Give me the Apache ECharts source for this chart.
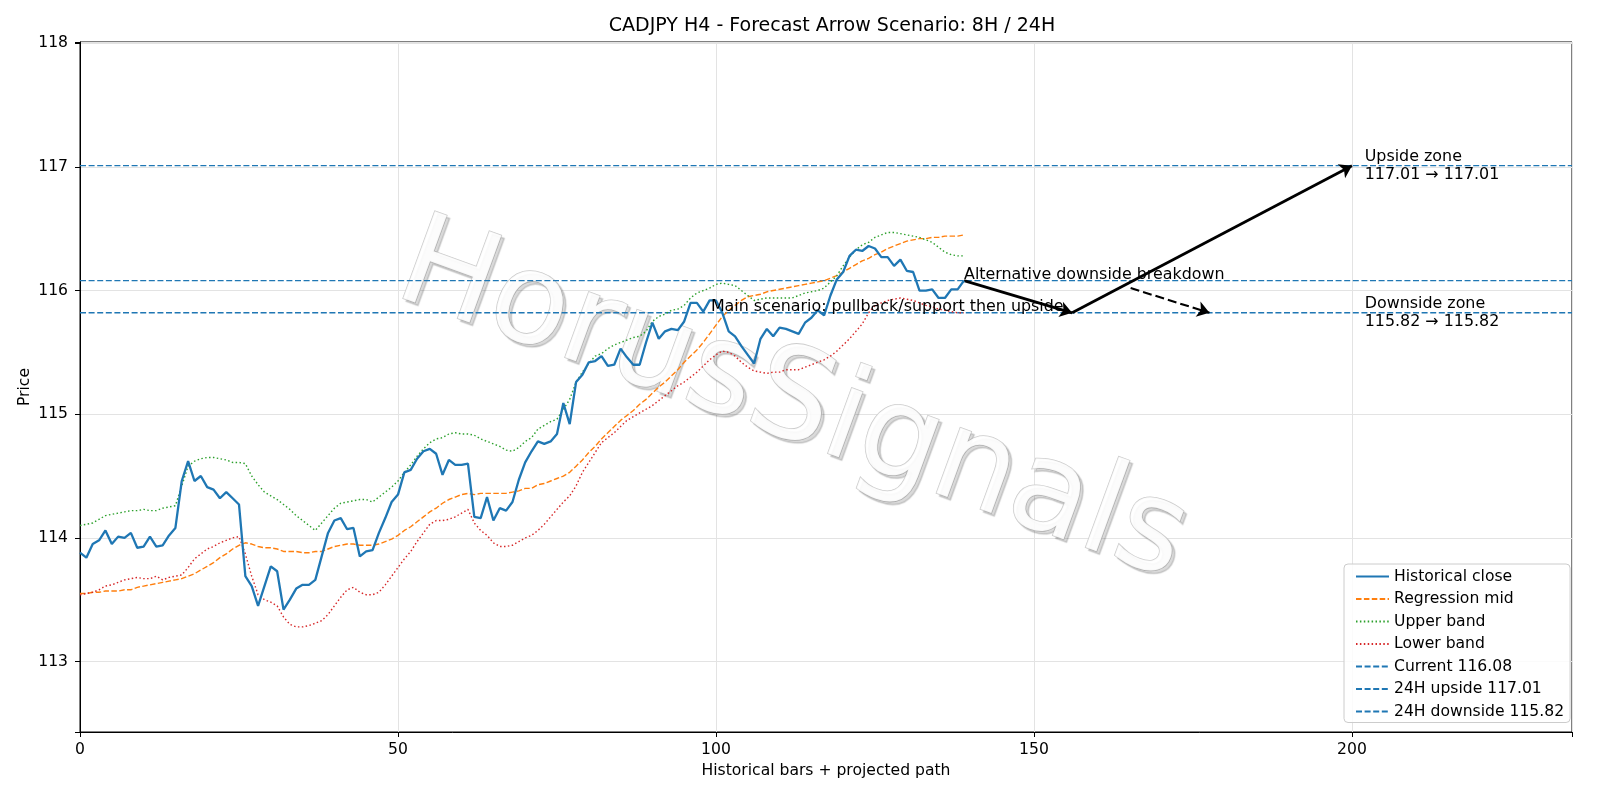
<!DOCTYPE html>
<html><head><meta charset="utf-8">
<script src="https://cdn.jsdelivr.net/npm/echarts@6/dist/echarts.min.js"></script>
<style>html,body{margin:0;padding:0;background:#fff}#c{width:1600px;height:800px}</style>
</head><body><div id="c"></div>
<script>
const closeVals = [113.88,113.84,113.95,113.98,114.06,113.95,114.01,114.00,114.04,113.92,
113.93,114.01,113.93,113.94,114.02,114.08,114.46,114.62,114.46,114.50,
114.41,114.39,114.32,114.37,114.32,114.27,113.69,113.61,113.45,113.61,
113.77,113.73,113.42,113.50,113.59,113.62,113.62,113.66,113.85,114.04,
114.14,114.16,114.07,114.08,113.85,113.89,113.90,114.04,114.16,114.29,
114.35,114.53,114.55,114.64,114.70,114.72,114.68,114.51,114.63,114.59,
114.59,114.60,114.17,114.16,114.33,114.14,114.24,114.22,114.29,114.47,
114.61,114.70,114.78,114.76,114.78,114.84,115.09,114.92,115.26,115.32,
115.42,115.43,115.47,115.39,115.40,115.53,115.46,115.40,115.40,115.58,
115.74,115.61,115.67,115.69,115.68,115.75,115.90,115.90,115.83,115.92,
115.92,115.82,115.67,115.63,115.55,115.48,115.41,115.61,115.69,115.63,
115.70,115.69,115.67,115.65,115.74,115.78,115.84,115.80,115.96,116.09,
116.15,116.28,116.33,116.32,116.36,116.34,116.27,116.27,116.20,116.25,
116.16,116.15,116.00,116.00,116.01,115.94,115.94,116.01,116.01,116.08];
const midVals = [113.55,113.55,113.56,113.56,113.57,113.57,113.57,113.58,113.58,113.60,
113.61,113.62,113.63,113.64,113.65,113.66,113.67,113.69,113.71,113.74,
113.77,113.80,113.84,113.87,113.91,113.94,113.96,113.95,113.93,113.92,
113.92,113.91,113.89,113.89,113.89,113.88,113.88,113.89,113.89,113.91,
113.93,113.94,113.95,113.95,113.94,113.94,113.94,113.95,113.97,113.99,
114.02,114.06,114.09,114.13,114.17,114.21,114.24,114.28,114.31,114.33,
114.35,114.36,114.35,114.36,114.36,114.36,114.36,114.36,114.37,114.38,
114.40,114.40,114.43,114.44,114.46,114.48,114.50,114.53,114.58,114.63,
114.69,114.74,114.80,114.85,114.90,114.95,114.99,115.03,115.08,115.12,
115.17,115.22,115.26,115.31,115.36,115.42,115.47,115.52,115.58,115.65,
115.72,115.79,115.84,115.88,115.92,115.95,115.96,115.97,115.99,116.00,
116.01,116.02,116.03,116.04,116.05,116.06,116.07,116.08,116.10,116.12,
116.15,116.18,116.21,116.24,116.26,116.29,116.31,116.34,116.36,116.38,
116.40,116.41,116.42,116.42,116.43,116.43,116.44,116.44,116.44,116.45];
const upperVals = [114.10,114.11,114.12,114.15,114.18,114.19,114.20,114.21,114.22,114.22,
114.23,114.22,114.22,114.24,114.25,114.26,114.42,114.58,114.62,114.64,
114.65,114.65,114.64,114.63,114.61,114.61,114.60,114.50,114.43,114.37,
114.34,114.31,114.27,114.23,114.18,114.14,114.10,114.06,114.12,114.18,
114.24,114.28,114.29,114.30,114.31,114.31,114.29,114.33,114.37,114.41,
114.46,114.53,114.59,114.66,114.72,114.77,114.80,114.81,114.84,114.85,
114.84,114.84,114.83,114.80,114.78,114.76,114.74,114.71,114.70,114.73,
114.78,114.81,114.88,114.91,114.94,114.96,115.04,115.12,115.26,115.34,
115.41,115.47,115.49,115.53,115.56,115.58,115.60,115.62,115.63,115.67,
115.75,115.79,115.81,115.84,115.85,115.88,115.94,115.98,116.00,116.02,
116.05,116.06,116.05,116.04,116.00,115.96,115.92,115.93,115.94,115.94,
115.94,115.94,115.94,115.96,115.98,115.99,116.00,116.02,116.07,116.12,
116.20,116.27,116.33,116.37,116.39,116.43,116.45,116.47,116.47,116.46,
116.45,116.44,116.43,116.41,116.39,116.35,116.31,116.29,116.28,116.28];
const lowerVals = [113.54,113.55,113.56,113.58,113.61,113.62,113.64,113.66,113.67,113.68,
113.67,113.67,113.69,113.66,113.68,113.69,113.70,113.76,113.83,113.87,
113.91,113.93,113.96,113.98,114.00,114.01,113.87,113.69,113.54,113.50,
113.48,113.45,113.36,113.30,113.28,113.28,113.29,113.31,113.33,113.38,
113.45,113.52,113.58,113.60,113.56,113.54,113.54,113.56,113.62,113.69,
113.76,113.83,113.89,113.97,114.04,114.11,114.14,114.14,114.15,114.17,
114.20,114.23,114.12,114.06,114.02,113.96,113.93,113.93,113.94,113.97,
114.00,114.02,114.06,114.11,114.17,114.23,114.29,114.34,114.42,114.53,
114.61,114.69,114.77,114.81,114.85,114.90,114.95,114.98,115.01,115.04,
115.07,115.11,115.15,115.19,115.23,115.26,115.30,115.34,115.39,115.44,
115.48,115.51,115.50,115.47,115.42,115.38,115.35,115.34,115.33,115.34,
115.34,115.36,115.36,115.36,115.38,115.40,115.42,115.44,115.47,115.51,
115.56,115.61,115.67,115.73,115.82,115.88,115.90,115.92,115.93,115.94,
115.93,115.92,115.90,115.88,115.87,115.85,115.84,115.83,115.82,115.82];
const currentLevel = 116.08;
const upsideLevel = 117.01;
const downsideLevel = 115.82;
const mainPath = [[139, 116.08], [156, 115.82], [200, 117.01]];
const altPath = [[165.2, 116.02], [177.6, 115.82]];
const xRange = [0, 234.6];
const yRange = [112.43, 118.01];

const FONT = 'DejaVu Sans';
const FS = 15.6;
const chart = echarts.init(document.getElementById('c'), null, {renderer: 'canvas'});
const toPts = arr => arr.map((v, i) => [i, v]);
const hline = v => [[xRange[0], v], [xRange[1], v]];
const hlineStyle = {color: '#1f77b4', width: 1.4, type: [6, 2.6]};

const option = {
  animation: false,
  backgroundColor: '#fff',
  grid: {left: 80, right: 28, top: 42, bottom: 68, show: true, borderColor: '#000', borderWidth: 1, containLabel: false},
  xAxis: {
    type: 'value', min: xRange[0], max: xRange[1],
    name: 'Historical bars + projected path', nameLocation: 'middle', nameGap: 30,
    nameTextStyle: {fontFamily: FONT, fontSize: FS, color: '#000'},
    axisLine: {show: true, lineStyle: {color: '#000', width: 1}},
    axisTick: {show: true, length: 5, lineStyle: {color: '#000'}},
    axisLabel: {fontFamily: FONT, fontSize: FS, color: '#000', margin: 10,
      formatter: v => (Math.abs(v % 50) < 1e-6 ? String(v) : '')},
    splitLine: {show: true, lineStyle: {color: '#e3e3e3', width: 1}}
  },
  yAxis: {
    type: 'value', min: yRange[0], max: yRange[1], scale: true,
    name: 'Price', nameLocation: 'middle', nameGap: 47, nameRotate: 90, nameMoveOverlap: false,
    nameTextStyle: {fontFamily: FONT, fontSize: FS, color: '#000'},
    axisLine: {show: true, lineStyle: {color: '#000', width: 1}},
    axisTick: {show: true, length: 5, lineStyle: {color: '#000'}},
    axisLabel: {fontFamily: FONT, fontSize: FS, color: '#000', margin: 12,
      formatter: v => (Math.abs(v - Math.round(v)) < 1e-6 ? String(Math.round(v)) : '')},
    splitLine: {show: true, lineStyle: {color: '#e3e3e3', width: 1}}
  },
  legend: {
    orient: 'vertical', left: 1344, top: 564,
    itemWidth: 33, itemHeight: 14, itemGap: 6.5,
    padding: [4.5, 6, 3, 11],
    itemStyle: {opacity: 0},
    backgroundColor: 'rgba(255,255,255,0.85)', borderColor: '#cccccc', borderWidth: 1, borderRadius: 4,
    textStyle: {fontFamily: FONT, fontSize: FS, color: '#000'},
    data: ['Historical close', 'Regression mid', 'Upper band', 'Lower band',
      'Current 116.08', '24H upside 117.01', '24H downside 115.82']
  },
  series: [
    {name: 'Historical close', type: 'line', data: toPts(closeVals), symbol: 'none', showSymbol: false, z: 6,
      lineStyle: {color: '#1f77b4', width: 2.3}, itemStyle: {color: '#1f77b4'}},
    {name: 'Regression mid', type: 'line', data: toPts(midVals), symbol: 'none', showSymbol: false, z: 5,
      lineStyle: {color: '#ff7f0e', width: 1.4, type: [5.5, 2.4]}, itemStyle: {color: '#ff7f0e'}},
    {name: 'Upper band', type: 'line', data: toPts(upperVals), symbol: 'none', showSymbol: false, z: 5,
      lineStyle: {color: '#2ca02c', width: 1.4, type: [1.5, 2.4]}, itemStyle: {color: '#2ca02c'}},
    {name: 'Lower band', type: 'line', data: toPts(lowerVals), symbol: 'none', showSymbol: false, z: 5,
      lineStyle: {color: '#d62728', width: 1.4, type: [1.5, 2.4]}, itemStyle: {color: '#d62728'}},
    {name: 'Current 116.08', type: 'line', data: hline(currentLevel), symbol: 'none', showSymbol: false, z: 4,
      lineStyle: hlineStyle, itemStyle: {color: '#1f77b4'}},
    {name: '24H upside 117.01', type: 'line', data: hline(upsideLevel), symbol: 'none', showSymbol: false, z: 4,
      lineStyle: hlineStyle, itemStyle: {color: '#1f77b4'}},
    {name: '24H downside 115.82', type: 'line', data: hline(downsideLevel), symbol: 'none', showSymbol: false, z: 4,
      lineStyle: hlineStyle, itemStyle: {color: '#1f77b4'}},
    {name: 'arrows', type: 'line', data: [], z: 7,
      markLine: {
        silent: true, animation: false,
        symbol: ['none', 'arrow'], symbolSize: 12,
        label: {show: false},
        itemStyle: {color: '#000'},
        lineStyle: {color: '#000', width: 2.8, type: 'solid'},
        emphasis: {disabled: true},
        data: [
          [{coord: mainPath[0]}, {coord: mainPath[1]}],
          [{coord: mainPath[1]}, {coord: mainPath[2]}],
          [{coord: altPath[0], lineStyle: {color: '#000', width: 2.1, type: [9, 4]}}, {coord: altPath[1]}]
        ]
      }}
  ]
};
chart.setOption(option);

const P = (x, y) => chart.convertToPixel({xAxisIndex: 0, yAxisIndex: 0}, [x, y]);
const txt = (x, y, text, extra) => Object.assign({
  type: 'text', x: x, y: y, z: 20,
  style: Object.assign({text: text, fill: '#000', fontFamily: FONT, fontSize: 15.9, align: 'left', verticalAlign: 'middle'}, extra || {})
});
const pAlt = P(139, currentLevel);
const pMain = P(99.2, downsideLevel);
const pUp = P(202, upsideLevel);
const pDn = P(202, downsideLevel);

chart.setOption({
  graphic: [
    {type: 'text', x: 832, y: 26, z: 20,
      style: {text: 'CADJPY H4 - Forecast Arrow Scenario: 8H / 24H', fill: '#000', fontFamily: FONT, fontSize: 19, align: 'center', verticalAlign: 'middle'}},
    {type: 'text', x: 792, y: 405, rotation: -0.35, z: 1, silent: true,
      style: {text: 'HorusSignals', fontFamily: FONT, fontSize: 127, align: 'center', verticalAlign: 'middle',
        fill: 'rgba(255,255,255,0.9)', stroke: '#cdcdcd', lineWidth: 1.6,
        textShadowColor: 'rgba(0,0,0,0.16)', textShadowOffsetX: 3, textShadowOffsetY: 3, textShadowBlur: 1}},
    txt(pAlt[0], pAlt[1] - 6, 'Alternative downside breakdown'),
    txt(pMain[0], pMain[1] - 6, 'Main scenario: pullback/support then upside'),
    txt(pUp[0], pUp[1], 'Upside zone\n117.01 → 117.01', {lineHeight: 17.5}),
    txt(pDn[0], pDn[1], 'Downside zone\n115.82 → 115.82', {lineHeight: 17.5})
  ]
});
</script></body></html>
